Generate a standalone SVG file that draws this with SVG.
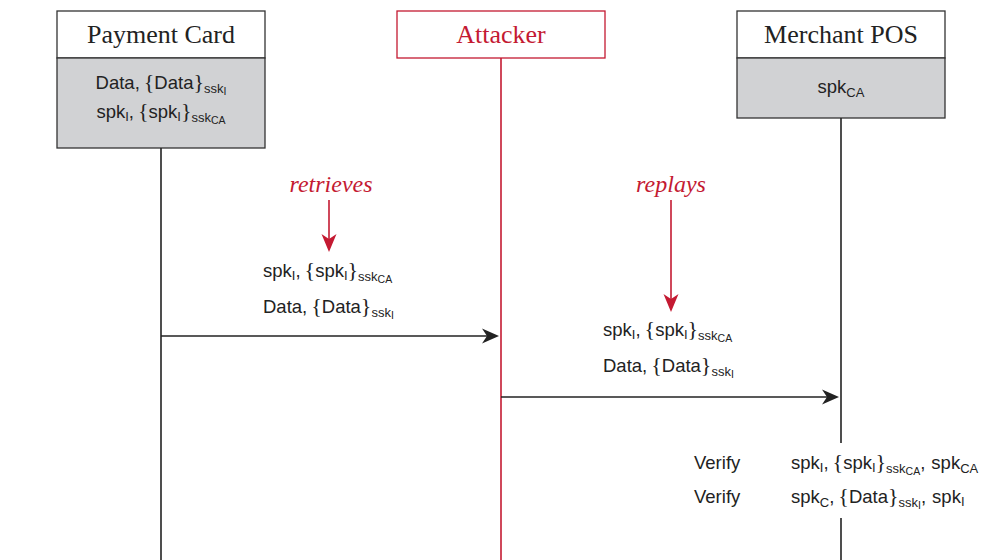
<svg xmlns="http://www.w3.org/2000/svg" width="989" height="560" viewBox="0 0 989 560">
<style>
.hdr{fill:#fff;stroke:#333;stroke-width:1.3}
.hdrR{fill:#fff;stroke:#c41a32;stroke-width:1.3}
.st{fill:#d1d2d4;stroke:#333;stroke-width:1.3}
.ttl{font-family:"Liberation Serif","Times New Roman",serif;font-size:26px;fill:#222}
.ttlR{font-family:"Liberation Serif","Times New Roman",serif;font-size:26px;fill:#c41a32}
.lbl{font-family:"Liberation Serif","Times New Roman",serif;font-style:italic;font-size:24px;fill:#c41a32}
.t{font-family:"Liberation Sans",Arial,sans-serif;font-size:18.5px;fill:#222}
.br{font-family:"Liberation Serif","Times New Roman",serif;font-size:22px}
.s1{font-size:13px}
.s2{font-size:10.5px}
.life{stroke:#222;stroke-width:1.6;fill:none}
.lifeR{stroke:#c41a32;stroke-width:1.6;fill:none}
.msg{stroke:#222;stroke-width:1.6;fill:none}
.note{stroke:#c41a32;stroke-width:1.6;fill:none}
</style>
<defs>
<marker id="ah" markerUnits="userSpaceOnUse" markerWidth="18" markerHeight="16" viewBox="0 0 18 16" refX="5" refY="8" orient="auto">
<path d="M0,0.5 L17,8 L0,15.5 L5,8 Z" fill="#222"/>
</marker>
<marker id="ahR" markerUnits="userSpaceOnUse" markerWidth="19" markerHeight="16" viewBox="0 0 19 16" refX="5" refY="8" orient="auto">
<path d="M0,0.5 L18,8 L0,15.5 L5,8 Z" fill="#c41a32"/>
</marker>
</defs>

<g id="card">
<rect class="hdr" x="57" y="11" width="208" height="47"/>
<rect class="st" x="57" y="58" width="208" height="90"/>
<text class="ttl" x="161" y="43" text-anchor="middle">Payment Card</text>
<text class="t" x="161" y="89" text-anchor="middle">Data,<tspan class="br" dx="4">{</tspan>Data<tspan class="br">}</tspan><tspan class="s1" dy="4">ssk</tspan><tspan class="s2" dy="2">I</tspan></text>
<text class="t" x="161" y="118" text-anchor="middle">spk<tspan class="s1" dy="3">I</tspan><tspan dy="-3">,</tspan><tspan class="br" dx="4">{</tspan>spk<tspan class="s1" dy="3">I</tspan><tspan class="br" dy="-3">}</tspan><tspan class="s1" dy="4">ssk</tspan><tspan class="s2" dy="2">CA</tspan></text>
</g>

<g id="attacker">
<rect class="hdrR" x="397" y="11" width="208" height="47"/>
<text class="ttlR" x="501" y="43" text-anchor="middle">Attacker</text>
</g>

<g id="pos">
<rect class="hdr" x="737" y="11" width="208" height="47"/>
<rect class="st" x="737" y="58" width="208" height="60"/>
<text class="ttl" x="841" y="43" text-anchor="middle">Merchant POS</text>
<text class="t" x="841" y="93" text-anchor="middle">spk<tspan class="s1" dy="4">CA</tspan></text>
</g>

<g id="connectors">
<line class="life" x1="161" y1="148" x2="161" y2="560"/>
<line class="lifeR" x1="501" y1="58" x2="501" y2="560"/>
<line class="life" x1="841" y1="118" x2="841" y2="443"/>
<line class="life" x1="841" y1="518" x2="841" y2="560"/>
<line class="msg" x1="161" y1="336" x2="487" y2="336" marker-end="url(#ah)"/>
<line class="msg" x1="501" y1="397" x2="827" y2="397" marker-end="url(#ah)"/>
<line class="note" x1="329" y1="200" x2="329" y2="239" marker-end="url(#ahR)"/>
<line class="note" x1="671" y1="200" x2="671" y2="299" marker-end="url(#ahR)"/>
</g>

<g id="retrieves">
<text class="lbl" x="331" y="192" text-anchor="middle">retrieves</text>
<text class="t" x="263" y="277">spk<tspan class="s1" dy="3">I</tspan><tspan dy="-3">,</tspan><tspan class="br" dx="4">{</tspan>spk<tspan class="s1" dy="3">I</tspan><tspan class="br" dy="-3">}</tspan><tspan class="s1" dy="4">ssk</tspan><tspan class="s2" dy="2">CA</tspan></text>
<text class="t" x="263" y="313">Data,<tspan class="br" dx="4">{</tspan>Data<tspan class="br">}</tspan><tspan class="s1" dy="4">ssk</tspan><tspan class="s2" dy="2">I</tspan></text>
</g>

<g id="replays">
<text class="lbl" x="671" y="192" text-anchor="middle">replays</text>
<text class="t" x="603" y="336">spk<tspan class="s1" dy="3">I</tspan><tspan dy="-3">,</tspan><tspan class="br" dx="4">{</tspan>spk<tspan class="s1" dy="3">I</tspan><tspan class="br" dy="-3">}</tspan><tspan class="s1" dy="4">ssk</tspan><tspan class="s2" dy="2">CA</tspan></text>
<text class="t" x="603" y="372">Data,<tspan class="br" dx="4">{</tspan>Data<tspan class="br">}</tspan><tspan class="s1" dy="4">ssk</tspan><tspan class="s2" dy="2">I</tspan></text>
</g>

<g id="verify">
<text class="t" x="694" y="469">Verify</text>
<text class="t" x="791" y="469">spk<tspan class="s1" dy="3">I</tspan><tspan dy="-3">,</tspan><tspan class="br" dx="4">{</tspan>spk<tspan class="s1" dy="3">I</tspan><tspan class="br" dy="-3">}</tspan><tspan class="s1" dy="4">ssk</tspan><tspan class="s2" dy="2">CA</tspan><tspan dy="-6">,</tspan><tspan dx="6">spk</tspan><tspan class="s1" dy="4">CA</tspan></text>
<text class="t" x="694" y="503">Verify</text>
<text class="t" x="791" y="503">spk<tspan class="s1" dy="4">C</tspan><tspan dy="-4">,</tspan><tspan class="br" dx="4">{</tspan>Data<tspan class="br">}</tspan><tspan class="s1" dy="4">ssk</tspan><tspan class="s2" dy="2">I</tspan><tspan dy="-6">,</tspan><tspan dx="6">spk</tspan><tspan class="s1" dy="3">I</tspan></text>
</g>
</svg>
